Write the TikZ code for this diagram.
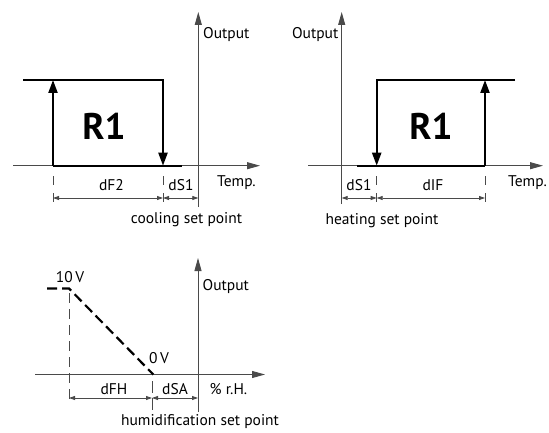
\documentclass[tikz,border=0pt]{standalone}
\usepackage{fontspec}
\setmainfont{PT Sans}
\usetikzlibrary{arrows.meta}
\definecolor{Caxis}{HTML}{4A4A4A}

\tikzset{
  axis/.style={draw=Caxis,line width=0.9pt,-{Triangle[width=7pt,length=13pt]}},
  thinline/.style={draw=Caxis,line width=0.8pt},
  relay/.style={draw=black,line width=2.2pt},
  relayup/.style={relay,-{Triangle[width=9pt,length=13pt]}},
  dimline/.style={thinline,{Triangle[width=4pt,length=6pt]}-{Triangle[width=4pt,length=6pt]}},
  dimtick/.style={thinline,dash pattern=on 8.5pt off 8pt},
  lbl/.style={font=\fontsize{15.5}{18}\selectfont,anchor=base,inner sep=0pt},
  relaylbl/.style={font=\fontsize{37}{40}\selectfont\bfseries,anchor=base,inner sep=0pt}
}

\begin{document}
\begin{tikzpicture}[x=1pt,y=-1pt]
	\useasboundingbox (0,0) rectangle (549,433);
	% cooling
	\draw[axis] (13,165.7) -- (260,165.7);
	\draw[axis] (198.3,207) -- (198.3,12);
	\draw[relay] (53,165.7) -- (182,165.7);
	\draw[relayup] (53,165.7) -- (53,80);
	\draw[relayup,line join=miter] (23,80) -- (163,80) -- (163,165.7);
	\foreach \x in {53,163}
		\draw[dimtick] (\x,176.5) -- (\x,204);
	\draw[dimline] (53,198) -- (163,198);
	\draw[dimline] (163,198) -- (198.3,198);
	\node[relaylbl] (r1c) at (104,140) {R1};
	\node[lbl,anchor=base west] (outc) at (203,39) {Output};
	\node[lbl] (df2) at (111.5,190) {dF2};
	\node[lbl] (ds1c) at (181,190) {dS1};
	\node[lbl] (tempc) at (236.5,186) {Temp.};
	\node[lbl] (cool) at (186.5,223) {cooling set point};
	% heating
	\draw[axis] (308,165.7) -- (543,165.7);
	\draw[axis] (341.7,204) -- (341.7,12);
	\draw[relay] (357,165.7) -- (485,165.7);
	\draw[relayup] (485,165.7) -- (485,80);
	\draw[relayup,line join=miter] (515,80) -- (376.7,80) -- (376.7,165.7);
	\foreach \x in {376.7,485}
		\draw[dimtick] (\x,176.5) -- (\x,204);
	\draw[dimline] (341.7,198) -- (376.7,198);
	\draw[dimline] (376.7,198) -- (485,198);
	\node[relaylbl] (r1h) at (431,140) {R1};
	\node[lbl,anchor=base east] (outh) at (338.5,39) {Output};
	\node[lbl] (ds1h) at (359,190.5) {dS1};
	\node[lbl] (dif) at (433,190.5) {dIF};
	\node[lbl] (temph) at (527.5,186) {Temp.};
	\node[lbl] (heat) at (382,224) {heating set point};
	% humidification
	\draw[axis] (35,374.5) -- (265,374.5);
	\draw[axis] (198,411.5) -- (198,258);
	\draw[relay,dash pattern=on 10pt off 5pt] (47,288.5) -- (69,288.5) -- (153.3,374.5);
	\draw[dimtick,dash pattern=on 10pt off 6pt] (69,293) -- (69,402);
	\draw[dimtick,dash pattern=on 12pt off 5pt] (152,381) -- (152,411);
	\draw[dimline] (69,398) -- (152,398);
	\draw[dimline] (152,398) -- (198,398);
	\node[lbl] (tenv) at (70,282) {10\,V};
	\node[lbl] (zerov) at (159,363) {0\,V};
	\node[lbl,anchor=base west] (outr) at (202.5,290) {Output};
	\node[lbl] (dfh) at (114,394) {dFH};
	\node[lbl] (dsa) at (175,394) {dSA};
	\node[lbl] (rh) at (228.5,394) {\% r.H.};
	\node[lbl] (humi) at (200,425) {humidification set point};
\end{tikzpicture}
\end{document}
